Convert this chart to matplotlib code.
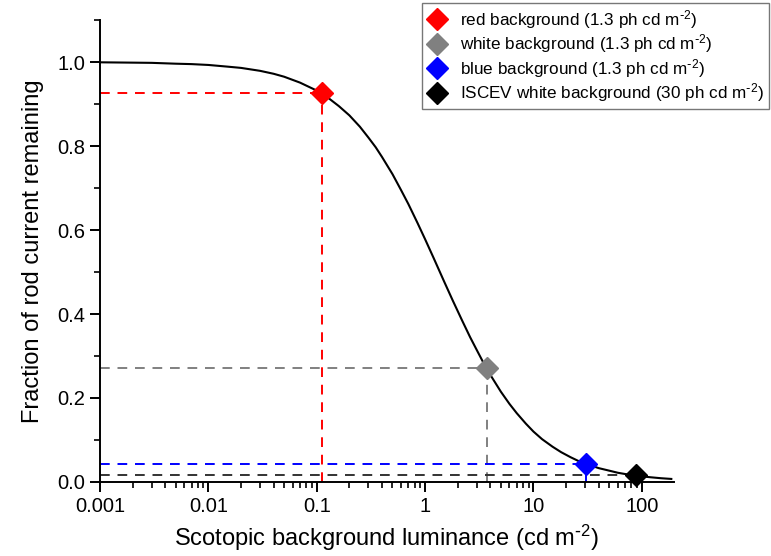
import numpy as np
import matplotlib
matplotlib.use("Agg")
import matplotlib.pyplot as plt
from matplotlib.ticker import LogLocator, FixedLocator, MultipleLocator, FuncFormatter

plt.rcParams['font.family'] = ['Liberation Sans', 'DejaVu Sans']
plt.rcParams['mathtext.default'] = 'regular'

# rod current curve, sampled along luminance
curve_lum = [0.001, 0.002, 0.003, 0.005, 0.007, 0.01, 0.015, 0.02, 0.03, 0.04, 0.05,
             0.07, 0.1, 0.13, 0.16, 0.2, 0.25, 0.3, 0.35, 0.4, 0.5, 0.6, 0.7, 0.85,
             1, 1.2, 1.5, 1.8, 2.2, 2.6, 3, 3.5, 4, 5, 6, 7, 8.5, 10, 12, 15, 18,
             22, 26, 30, 35, 40, 50, 60, 70, 85, 100, 120, 150, 187]
curve_frac = [0.9993, 0.9985, 0.998, 0.996, 0.995, 0.993, 0.989, 0.986, 0.979, 0.972,
              0.965, 0.951, 0.932, 0.913, 0.895, 0.873, 0.846, 0.820, 0.797, 0.774,
              0.733, 0.695, 0.662, 0.617, 0.578, 0.533, 0.477, 0.432, 0.384, 0.345,
              0.314, 0.281, 0.255, 0.215, 0.186, 0.164, 0.139, 0.120, 0.102, 0.084,
              0.071, 0.059, 0.050, 0.044, 0.038, 0.033, 0.027, 0.022, 0.019, 0.016,
              0.0135, 0.0113, 0.009, 0.0073]

# backgrounds
sup = r'$^{\text{-}2}$'
bg_labels = ['red background (1.3 ph cd m' + sup + ')',
             'white background (1.3 ph cd m' + sup + ')',
             'blue background (1.3 ph cd m' + sup + ')',
             'ISCEV white background (30 ph cd m' + sup + ')']
bg_lum = [0.111, 3.75, 30.2, 88]
bg_frac = [0.926, 0.271, 0.043, 0.016]
bg_colors = ['#ff0000', '#808080', '#0000ff', '#000000']
line_colors = ['#ff0000', '#808080', '#0000ff', '#333333']

x_min, x_max = 0.001, 198

fig = plt.figure(figsize=(7.71, 5.56), dpi=100)
ax = fig.add_axes([0.1297, 0.1331, 0.7445, 0.8309])

ax.plot(curve_lum, curve_frac, color='black', lw=1.5, zorder=3)

# guide lines from each background point to the axes
for lum, frac, lc in zip(bg_lum, bg_frac, line_colors):
    ax.plot([x_min, lum], [frac, frac], ls=(0, (5, 4)), color=lc, lw=1.4, zorder=2)
    ax.plot([lum, lum], [0, frac], ls=(0, (5, 4)), color=lc, lw=1.4, zorder=2)

handles = []
for lum, frac, c, lab in zip(bg_lum, bg_frac, bg_colors, bg_labels):
    h, = ax.plot([lum], [frac], marker='D', ms=11, color=c, ls='none',
                 label=lab, zorder=4, clip_on=False)
    handles.append(h)

ax.set_xscale('log')
ax.set_xlim(x_min, x_max)
ax.set_ylim(0, 1.1)

ax.xaxis.set_major_locator(FixedLocator([0.001, 0.01, 0.1, 1, 10, 100]))
ax.xaxis.set_minor_locator(LogLocator(base=10, subs=np.arange(2, 10)))
ax.xaxis.set_major_formatter(FuncFormatter(lambda v, p: f'{v:g}'))
ax.xaxis.set_minor_formatter(FuncFormatter(lambda v, p: ''))
ax.yaxis.set_major_locator(FixedLocator([0.0, 0.2, 0.4, 0.6, 0.8, 1.0]))
ax.yaxis.set_minor_locator(MultipleLocator(0.1))
ax.yaxis.set_major_formatter(FuncFormatter(lambda v, p: f'{v:.1f}'))

for s in ['top', 'right']:
    ax.spines[s].set_visible(False)
for s in ['left', 'bottom']:
    ax.spines[s].set_linewidth(1.4)
ax.tick_params(which='major', direction='out', length=7, width=1.4, labelsize=14.5)
ax.tick_params(which='minor', direction='out', length=4, width=1.2)

ax.set_xlabel('Scotopic background luminance (cd m' + sup + ')', fontsize=17, labelpad=5)
ax.set_ylabel('Fraction of rod current remaining', fontsize=17, labelpad=10)

leg = fig.legend(handles=handles, loc='upper right', bbox_to_anchor=(0.999, 0.997),
                 fontsize=12.3, frameon=True, fancybox=False, edgecolor='#555555',
                 handletextpad=0.7, labelspacing=0.1, borderpad=0.25, handlelength=1.3,
                 borderaxespad=0.1)
leg.get_frame().set_linewidth(1.0)

fig.savefig('out.png', dpi=100)
